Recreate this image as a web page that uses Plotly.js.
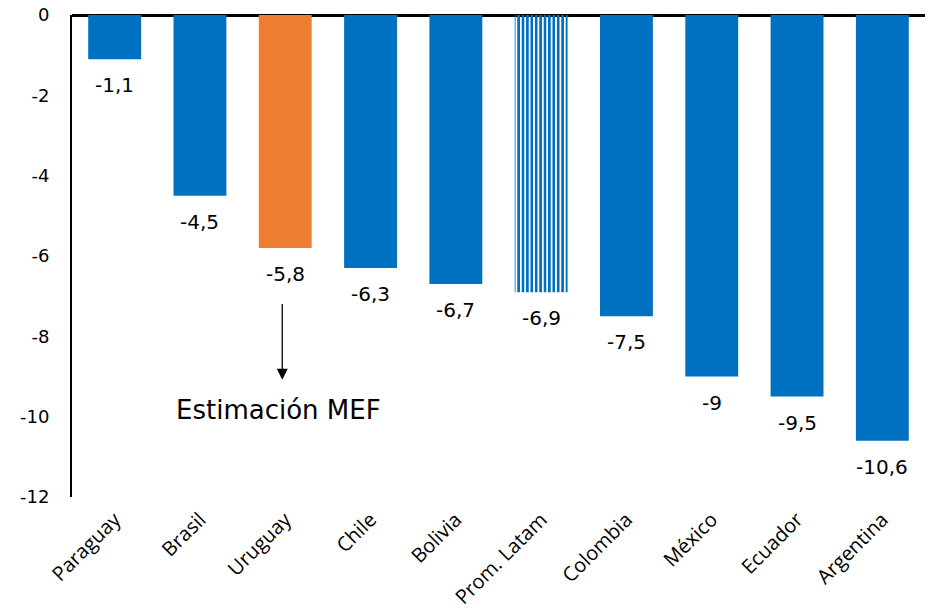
<!DOCTYPE html>
<html>
<head>
<meta charset="utf-8">
<script src="https://cdn.plot.ly/plotly-3.0.1.min.js"></script>
<style>html,body{margin:0;padding:0;background:#fff}#chart{width:932px;height:612px}</style>
</head>
<body>
<div id="chart"></div>
<script>
const categories = ["Paraguay","Brasil","Uruguay","Chile","Bolivia","Prom. Latam","Colombia","México","Ecuador","Argentina"];
const values = [-1.1,-4.5,-5.8,-6.3,-6.7,-6.9,-7.5,-9,-9.5,-10.6];
const labels = ["-1,1","-4,5","-5,8","-6,3","-6,7","-6,9","-7,5","-9","-9,5","-10,6"];
const yTickVals = [0,-2,-4,-6,-8,-10,-12];
const yTickText = ["0","-2","-4","-6","-8","-10","-12"];

const blue = "#0070C0", orange = "#ED7D31";
const colors = categories.map(c => c === "Uruguay" ? orange : blue);
const shapes = categories.map(c => c === "Prom. Latam" ? "|" : "");

const font = "'DejaVu Sans', sans-serif";
const xfont = "'Open Sans', sans-serif";

const trace = {
  type: "bar",
  x: categories,
  y: values,
  marker: {
    color: colors,
    line: {width: 0},
    pattern: {shape: shapes, fgcolor: blue, bgcolor: "#fff", size: 4.4, solidity: 0.6, fillmode: "replace"}
  },
  hoverinfo: "none"
};

const valueAnnotations = categories.map((c, i) => ({
  x: c, y: values[i], xref: "x", yref: "y",
  text: labels[i], showarrow: false, yanchor: "top", yshift: -12,
  font: {family: font, size: 20, color: "#000"}
}));

const layout = {
  width: 932, height: 612,
  margin: {l: 72, r: 7, t: 15, b: 115},
  paper_bgcolor: "#fff", plot_bgcolor: "#fff",
  showlegend: false,
  bargap: 0.38,
  font: {family: font, color: "#000"},
  xaxis: {
    type: "category",
    showline: false, showgrid: false, zeroline: false,
    ticks: "", tickangle: -45,
    tickfont: {family: xfont, size: 20, color: "#000"},
    ticklabelstandoff: 6
  },
  yaxis: {
    range: [-12, 0],
    tickvals: yTickVals, ticktext: yTickText,
    showgrid: false,
    showline: true, linecolor: "#000", linewidth: 2,
    zeroline: true, zerolinecolor: "#000", zerolinewidth: 3,
    ticks: "", ticklen: 0,
    tickfont: {family: font, size: 18, color: "#000"},
    ticklabelstandoff: 17
  },
  annotations: valueAnnotations.concat([
    {x: "Uruguay", y: -9.08, xref: "x", yref: "y", ax: "Uruguay", ay: -7.16, axref: "x", ayref: "y",
     xshift: -3, text: "", showarrow: true, arrowhead: 2, arrowsize: 1.7, arrowwidth: 1.3, arrowcolor: "#000"},
    {x: "Uruguay", y: -9.83, xref: "x", yref: "y", text: "Estimación MEF", showarrow: false, xshift: -7,
     font: {family: font, size: 26, color: "#000"}}
  ])
};

Plotly.newPlot("chart", [trace], layout, {displayModeBar: false, staticPlot: true});
</script>
</body>
</html>
